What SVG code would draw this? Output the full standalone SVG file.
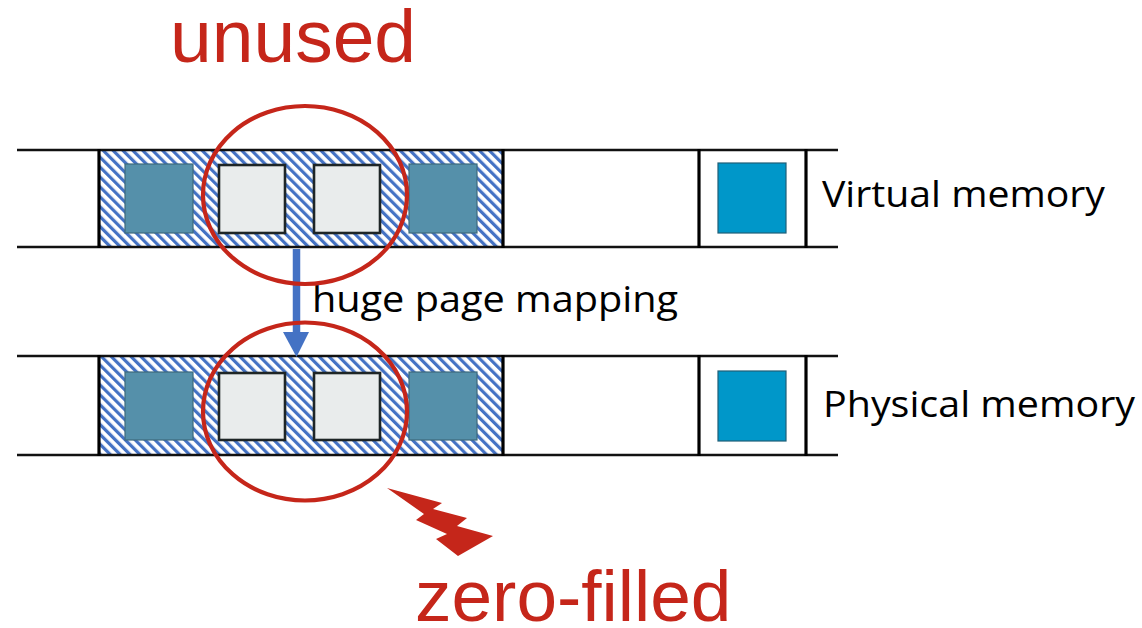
<svg xmlns="http://www.w3.org/2000/svg" width="1142" height="628" viewBox="0 0 1142 628">
<defs>
<pattern id="hatch" patternUnits="userSpaceOnUse" width="7" height="7" patternTransform="rotate(-45)">
<rect width="7" height="7" fill="#ffffff"/>
<rect x="0" y="0" width="3.2" height="7" fill="#4472c4"/>
</pattern>
</defs>
<style>
.hl{stroke:#111;stroke-width:2.5;fill:none}
.vl{stroke:#000;stroke-width:3.2;fill:none}
.dark{fill:#5590aa;stroke:#3d6a7c;stroke-width:1.2}
.light{fill:#e9ecec;stroke:#1e2526;stroke-width:2.6}
.blue{fill:#0097c9;stroke:#1f5f78;stroke-width:1.2}
.ring{fill:none;stroke:#c5261a;stroke-width:4.2}
.lbl{font-family:"Open Sans","Noto Sans",sans-serif;fill:#000}
.red{font-family:"Liberation Sans",Arial,sans-serif;fill:#c5261a}
</style>
<g id="virtual-memory">
<rect x="99" y="150" width="404" height="97" fill="url(#hatch)"/>
<line class="hl" x1="17" y1="150" x2="838" y2="150"/>
<line class="hl" x1="17" y1="247" x2="838" y2="247"/>
<line class="vl" x1="99" y1="149" x2="99" y2="248"/>
<line class="vl" x1="503" y1="149" x2="503" y2="248"/>
<line class="vl" x1="699" y1="149" x2="699" y2="248"/>
<line class="vl" x1="806" y1="149" x2="806" y2="248"/>
<rect class="dark" x="125" y="164" width="68" height="69"/>
<rect class="light" x="219" y="165" width="66" height="68"/>
<rect class="light" x="314" y="165" width="66" height="68"/>
<rect class="dark" x="409" y="164" width="68" height="69"/>
<rect class="blue" x="718" y="163" width="68" height="70"/>
<text class="lbl" x="822" y="207" font-size="37" textLength="283" lengthAdjust="spacingAndGlyphs">Virtual memory</text>
</g>
<g id="physical-memory">
<rect x="99" y="356" width="404" height="99" fill="url(#hatch)"/>
<line class="hl" x1="17" y1="356" x2="838" y2="356"/>
<line class="hl" x1="17" y1="455" x2="838" y2="455"/>
<line class="vl" x1="99" y1="355" x2="99" y2="456"/>
<line class="vl" x1="503" y1="355" x2="503" y2="456"/>
<line class="vl" x1="699" y1="355" x2="699" y2="456"/>
<line class="vl" x1="806" y1="355" x2="806" y2="456"/>
<rect class="dark" x="125" y="372" width="68" height="68"/>
<rect class="light" x="219" y="373" width="66" height="67"/>
<rect class="light" x="314" y="373" width="66" height="67"/>
<rect class="dark" x="409" y="372" width="68" height="68"/>
<rect class="blue" x="718" y="371" width="68" height="70"/>
<text class="lbl" x="823" y="417" font-size="37" textLength="312" lengthAdjust="spacingAndGlyphs">Physical memory</text>
</g>
<g id="connectors">
<line x1="296.5" y1="249" x2="296.5" y2="334" stroke="#4472c4" stroke-width="7.5"/>
<polygon points="283,332 309,332 296.5,357" fill="#4472c4"/>
<text class="lbl" x="312" y="312" font-size="37" textLength="366" lengthAdjust="spacingAndGlyphs">huge page mapping</text>
</g>
<g id="unused">
<ellipse class="ring" cx="305" cy="195" rx="102" ry="89"/>
<text class="red" x="170" y="62" font-size="75">unused</text>
</g>
<g id="zero-filled">
<ellipse class="ring" cx="305" cy="411.5" rx="102" ry="89"/>
<polygon fill="#c5261a" points="387,488 442,503 433,509 467,518 457,526 493,536 458,556 436,539 447,534 416,520 424,514"/>
<text class="red" x="415" y="621" font-size="73">zero-filled</text>
</g>
</svg>
